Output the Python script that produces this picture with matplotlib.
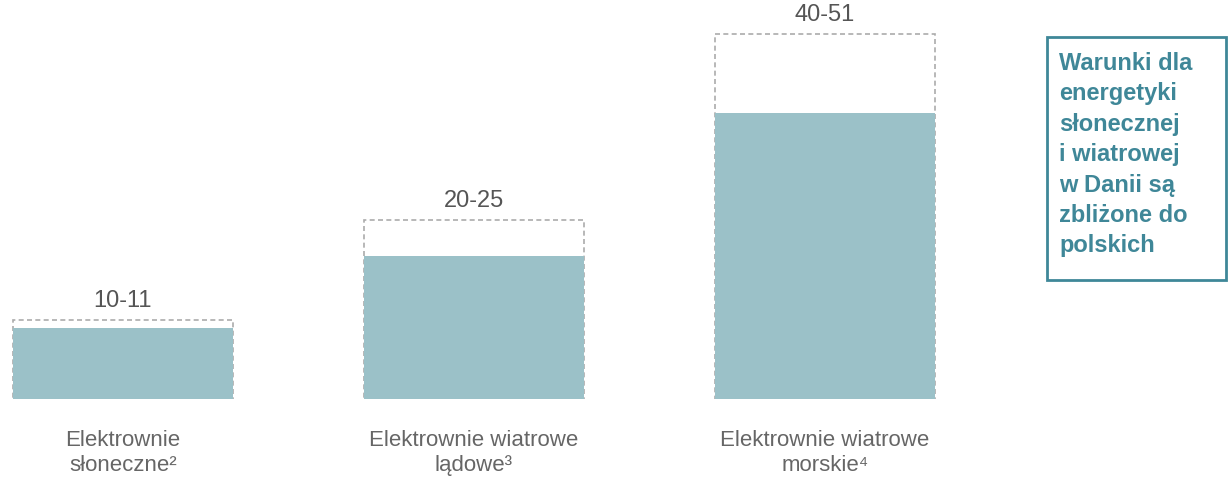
import matplotlib.pyplot as plt
from matplotlib.patches import Rectangle

# dane: zakresy (dolna - górna wartość) dla trzech technologii
categories = ['Elektrownie\nsłoneczne²', 'Elektrownie wiatrowe\nlądowe³', 'Elektrownie wiatrowe\nmorskie⁴']
low_values = [10, 20, 40]
high_values = [11, 25, 51]
range_labels = ['10-11', '20-25', '40-51']
note_text = 'Warunki dla\nenergetyki\nsłonecznej\ni wiatrowej\nw Danii są\nzbliżone do\npolskich'

bar_color = '#9bc1c8'
teal = '#3f8798'
W, H = 1228, 484

fig = plt.figure(figsize=(W / 100, H / 100), dpi=100)
ax = fig.add_axes([0, 85 / H, 1, 399 / H])

x = list(range(len(categories)))
width = 0.627
ax.bar(x, low_values, width=width, color=bar_color, zorder=2)
for xi, lo, hi, lab in zip(x, low_values, high_values, range_labels):
    ax.add_patch(Rectangle((xi - width / 2, 0), width, hi, fill=False,
                           edgecolor='#ababab', linestyle=(0, (3, 2)), linewidth=1.2, zorder=1))
    ax.text(xi, hi + 1.2, lab, ha='center', va='bottom', fontsize=17,
            color='#555555', family=['Liberation Sans', 'DejaVu Sans'])
    ax.text(xi, -4.4, categories[xi], ha='center', va='top', fontsize=16,
            color='#666666', linespacing=1.22,
            family=['Liberation Sans', 'DejaVu Sans'])

ax.set_xlim(-123 / 351, (W - 123) / 351)
ax.set_ylim(0, 399 / 7.15)
ax.axis('off')

# ramka z komentarzem
fig.patches.append(Rectangle((1047 / W, (H - 280) / H), 179 / W, 243 / H,
                             transform=fig.transFigure, fill=False,
                             edgecolor=teal, linewidth=2))
fig.text(1059 / W, (H - 52) / H, note_text, ha='left', va='top', fontsize=17,
         fontweight='bold', color=teal, linespacing=1.41,
         family=['Liberation Sans', 'DejaVu Sans'])

fig.savefig('out.png', dpi=100)
